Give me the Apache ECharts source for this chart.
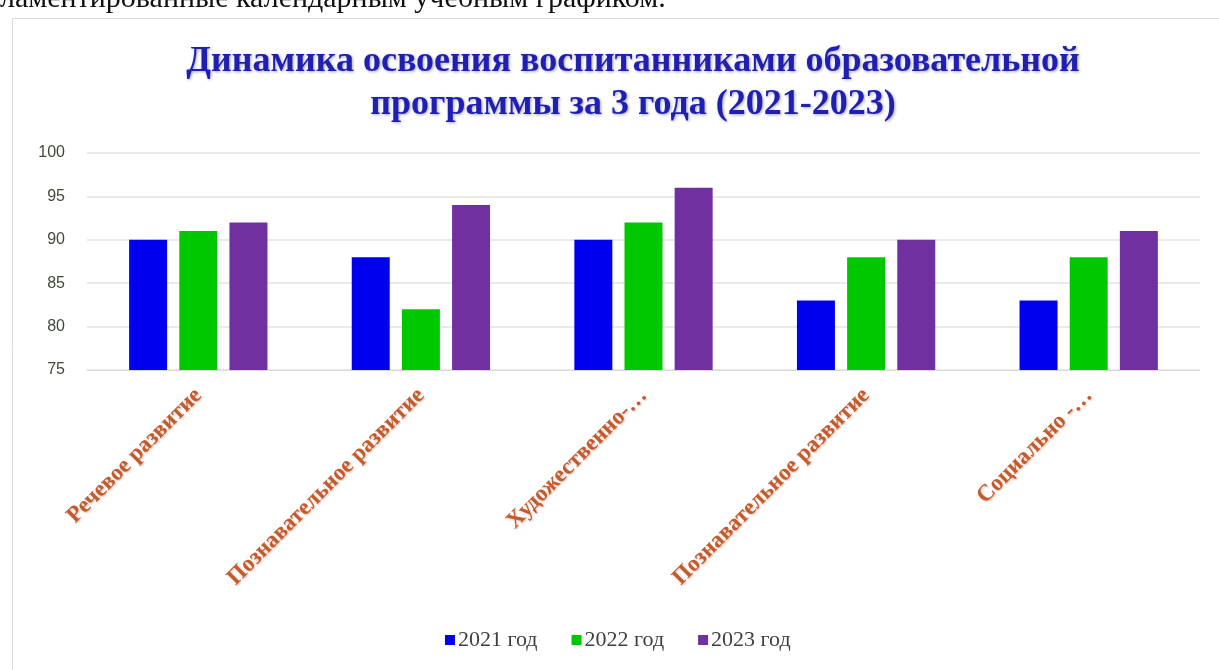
<!DOCTYPE html>
<html>
<head>
<meta charset="utf-8">
<script src="https://cdn.jsdelivr.net/npm/echarts@6/dist/echarts.min.js"></script>
<style>
html,body{margin:0;padding:0;background:#fff;}
#c{width:1219px;height:670px;}
</style>
</head>
<body>
<div id="c"></div>
<script>
const categories = ['Речевое развитие', 'Познавательное развитие', 'Художественно-…', 'Познавательное развитие', 'Социально -…'];
const seriesNames = ['2021 год', '2022 год', '2023 год'];
const values2021 = [90, 88, 90, 83, 83];
const values2022 = [91, 82, 92, 88, 88];
const values2023 = [92, 94, 96, 90, 91];
const yTicks = [75, 80, 85, 90, 95, 100];
const titleLines = ['Динамика освоения воспитанниками образовательной', 'программы за 3 года (2021-2023)'];
const topText = 'ламентированные календарным учебным графиком.';

const colors = ['#0000ee', '#00c800', '#7030a0'];
const chart = echarts.init(document.getElementById('c'));
const mk = (name, data, i) => ({
  name, type: 'bar', data,
  barWidth: 38, barGap: '32%',
  itemStyle: { color: colors[i] }
});
chart.setOption({
  animation: false,
  graphic: [
    { type: 'rect', shape: { x: 12.5, y: 18.5, width: 1230, height: 700 },
      style: { fill: 'none', stroke: '#d9d9d9', lineWidth: 1 } },
    { type: 'text', left: 0, top: -16,
      style: { text: topText, font: '30px "Liberation Serif"', fill: '#111' } }
  ],
  title: {
    text: titleLines.join('\n'),
    left: 628, top: 35, textAlign: 'center',
    textStyle: {
      fontFamily: 'Liberation Serif', fontWeight: 'bold', fontSize: 36,
      color: '#1f1fb4', lineHeight: 43,
      textShadowColor: 'rgba(0,0,80,0.35)', textShadowBlur: 3, textShadowOffsetX: 1, textShadowOffsetY: 1
    }
  },
  legend: {
    data: seriesNames, top: 624, left: 440,
    itemWidth: 10, itemHeight: 10, itemGap: 34, icon: 'rect',
    textStyle: { fontFamily: 'Liberation Serif', fontSize: 22, color: '#404040', padding: [0, 0, 0, -2] }
  },
  grid: { left: 87, right: 19, top: 153, bottom: 300, containLabel: false },
  xAxis: {
    type: 'category', data: categories,
    axisLine: { show: true, lineStyle: { color: '#d9d9d9' } },
    axisTick: { show: false },
    axisLabel: {
      rotate: 45, interval: 0, margin: 22,
      fontFamily: 'Liberation Serif', fontWeight: 'bold', fontSize: 23, color: '#c55a2a',
      textShadowColor: 'rgba(120,40,0,0.3)', textShadowBlur: 2, textShadowOffsetX: 1, textShadowOffsetY: 1
    }
  },
  yAxis: {
    type: 'value', min: yTicks[0], max: yTicks[yTicks.length - 1], interval: 5,
    axisLine: { show: false }, axisTick: { show: false },
    axisLabel: { fontFamily: 'Liberation Sans', fontSize: 16, color: '#3f4a36', margin: 22 },
    splitLine: { lineStyle: { color: '#e3e3e3', width: 1.5 } }
  },
  series: [mk(seriesNames[0], values2021, 0), mk(seriesNames[1], values2022, 1), mk(seriesNames[2], values2023, 2)]
});
</script>
</body>
</html>
